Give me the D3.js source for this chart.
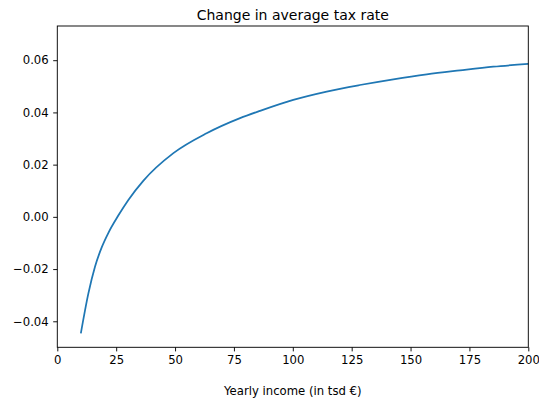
<!DOCTYPE html>
<html><head><meta charset="utf-8">
<script src="https://cdn.jsdelivr.net/npm/d3@7"></script>
<style>
body{margin:0;background:#fff;}
svg{display:block;font-family:"DejaVu Sans",sans-serif;}
</style></head>
<body>
<svg id="c" width="539" height="401"></svg>
<script>
const incomes = [10, 13.2, 16, 18.9, 21.7, 25.9, 30.1, 36.5, 49.3, 63.4, 77.6, 86.1, 100.2, 114.4, 128.5, 142.7, 156.9, 171, 185.1, 200];
const rateChange = [-0.0446, -0.0293, -0.0191, -0.0116, -0.0061, 0.0005, 0.0064, 0.0138, 0.0244, 0.0320, 0.0378, 0.0406, 0.0448, 0.0480, 0.0505, 0.0527, 0.0546, 0.0561, 0.0575, 0.0586];
const xTicks = [0, 25, 50, 75, 100, 125, 150, 175, 200];
const yTicks = [-0.04, -0.02, 0.00, 0.02, 0.04, 0.06];
const titleText = "Change in average tax rate";
const xLabelText = "Yearly income (in tsd €)";

const L = 57.3, R = 528.3, T = 26, B = 347.3;
const svg = d3.select("#c");
const x = d3.scaleLinear().domain([0, 200]).range([L, R]);
const y = d3.scaleLinear().domain([-0.04996, 0.0731]).range([B, T]);

const data = incomes.map((v, i) => [v, rateChange[i]]);

svg.append("path")
  .datum(data)
  .attr("fill", "none")
  .attr("stroke", "#1f77b4")
  .attr("stroke-width", 1.75)
  .attr("stroke-linejoin", "round")
  .attr("stroke-linecap", "butt")
  .attr("d", d3.line().x(d => x(d[0])).y(d => y(d[1])).curve(d3.curveMonotoneX));

const xAxis = svg.append("g").attr("transform", `translate(0,${B})`)
  .call(d3.axisBottom(x).tickValues(xTicks).tickFormat(d3.format("d")).tickSize(4.1).tickPadding(4.5));
const yAxis = svg.append("g").attr("transform", `translate(${L},0)`)
  .call(d3.axisLeft(y).tickValues(yTicks).tickFormat(d3.format(".2f")).tickSize(4.1).tickPadding(4.5));
[xAxis, yAxis].forEach(g => {
  g.select(".domain").remove();
  g.selectAll(".tick line").attr("stroke", "#000").attr("stroke-width", 0.93);
  g.selectAll(".tick text").attr("fill", "#000").style("font-size", "11.67px").style("font-family", "DejaVu Sans");
});

svg.append("rect").attr("x", L).attr("y", T).attr("width", R - L).attr("height", B - T)
  .attr("fill", "none").attr("stroke", "#000").attr("stroke-width", 0.93);

svg.append("text").attr("x", (L + R) / 2).attr("y", 19.5).attr("text-anchor", "middle")
  .style("font-size", "14px").text(titleText);
svg.append("text").attr("x", (L + R) / 2).attr("y", 394.5).attr("text-anchor", "middle")
  .style("font-size", "11.67px").text(xLabelText);
</script>
</body></html>
